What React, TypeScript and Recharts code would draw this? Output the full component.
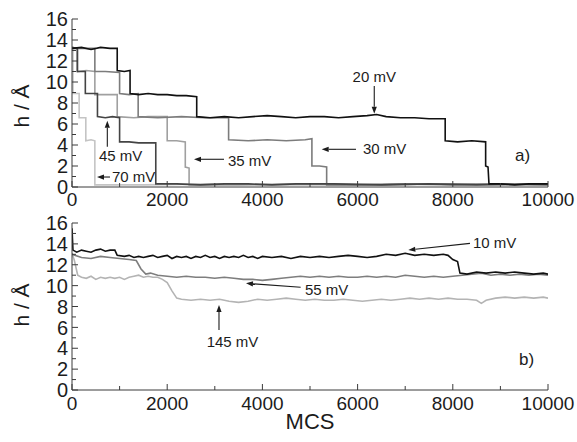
import * as React from 'react';
import { LineChart, Line, XAxis, YAxis, ReferenceLine, ReferenceDot } from 'recharts';

type Pt = [number, number];

// axis ticks
const xTicks = [0, 1000, 2000, 3000, 4000, 5000, 6000, 7000, 8000, 9000, 10000];
const yTicks = [0, 1, 2, 3, 4, 5, 6, 7, 8, 9, 10, 11, 12, 13, 14, 15, 16];

// panel a) : h (Å) vs MCS
const mv20: Pt[] = [
  [0, 13.2], [200, 13.3], [400, 13.1], [600, 13.3], [800, 13.2], [950, 13.2],
  [950, 11.1], [1100, 11.0], [1220, 11.1],
  [1220, 8.9], [1400, 8.8], [1600, 8.9], [1800, 8.8], [2000, 8.8], [2200, 8.7], [2400, 8.7], [2620, 8.6],
  [2620, 6.7], [2900, 6.6], [3200, 6.7], [3500, 6.6], [3800, 6.7], [4100, 6.8], [4400, 6.7], [4700, 6.6],
  [5000, 6.7], [5300, 6.7], [5600, 6.6], [5900, 6.7], [6200, 6.8], [6400, 6.9], [6600, 6.7], [6900, 6.6],
  [7200, 6.6], [7500, 6.5], [7840, 6.5],
  [7840, 4.4], [8100, 4.3], [8400, 4.4], [8690, 4.3],
  [8690, 2.0], [8740, 1.9], [8760, 0.3], [9000, 0.3], [9300, 0.2], [9600, 0.3], [10000, 0.3],
];
const mv30: Pt[] = [
  [0, 13.2], [480, 13.2], [480, 11.0], [700, 11.0], [1000, 10.9],
  [1000, 8.9], [1200, 8.8], [1390, 8.9],
  [1390, 6.7], [1800, 6.6], [2300, 6.7], [2800, 6.6], [3290, 6.6],
  [3290, 4.5], [3700, 4.4], [4100, 4.5], [4500, 4.4], [4900, 4.5], [5040, 4.6],
  [5040, 2.0], [5200, 2.0], [5350, 1.9],
  [5350, 0.2], [6000, 0.2], [7000, 0.3], [8000, 0.2], [9000, 0.3], [10000, 0.2],
];
const mv35: Pt[] = [
  [0, 13.2], [120, 13.2], [120, 11.0], [300, 11.1], [480, 11.0],
  [480, 8.8], [700, 8.8], [950, 8.8],
  [950, 6.7], [1300, 6.6], [1600, 6.7], [2000, 6.7],
  [2000, 4.4], [2200, 4.4], [2380, 4.3],
  [2380, 1.9], [2460, 1.8],
  [2460, 0.2], [3500, 0.2], [5000, 0.3], [6500, 0.2], [8000, 0.3], [10000, 0.2],
];
const mv45: Pt[] = [
  [0, 13.3], [110, 13.2], [110, 11.0], [280, 11.0],
  [280, 8.9], [535, 8.9],
  [535, 6.7], [700, 6.6], [850, 6.7], [1000, 6.6],
  [1000, 4.3], [1200, 4.3], [1400, 4.2], [1600, 4.2], [1760, 4.2],
  [1760, 0.3], [2200, 0.3], [2700, 0.2], [3200, 0.3], [3700, 0.3], [4200, 0.2], [4700, 0.3],
  [5500, 0.3], [6500, 0.2], [7500, 0.3], [8500, 0.2], [10000, 0.3],
];
const mv70: Pt[] = [
  [0, 13.2], [20, 13.0], [20, 8.9], [150, 8.9],
  [150, 6.6], [290, 6.6],
  [290, 4.4], [400, 4.5], [480, 4.4],
  [480, 0.2], [1500, 0.2], [3000, 0.3], [4500, 0.2], [6000, 0.2], [7500, 0.3], [10000, 0.2],
];

// panel b)
const mv10: Pt[] = [
  [0, 15.5], [20, 13.4], [100, 13.2], [200, 13.4], [300, 13.3], [400, 13.2], [500, 13.4], [600, 13.5],
  [700, 13.3], [800, 13.4], [900, 13.4], [950, 12.9], [1100, 12.8], [1200, 12.9], [1300, 12.7],
  [1400, 12.8], [1500, 12.7], [1600, 12.8], [1700, 12.9], [1800, 12.7], [1900, 12.8], [2000, 12.9],
  [2100, 12.6], [2200, 12.8], [2300, 12.7], [2400, 12.8], [2500, 12.6], [2600, 12.8], [2700, 12.7],
  [2800, 12.9], [2900, 12.7], [3000, 12.8], [3100, 12.6], [3200, 12.8], [3300, 12.7], [3400, 12.8],
  [3500, 12.7], [3600, 12.9], [3700, 12.7], [3800, 12.8], [3900, 12.6], [4000, 12.8], [4200, 12.7],
  [4400, 12.8], [4600, 12.6], [4800, 12.8], [5000, 12.7], [5200, 12.8], [5400, 12.7], [5600, 12.8],
  [5800, 12.9], [6000, 12.8], [6200, 12.7], [6400, 12.8], [6600, 13.0], [6800, 12.9], [7000, 13.1],
  [7200, 12.9], [7400, 13.0], [7600, 12.9], [7800, 13.0], [7900, 12.9], [8000, 12.5], [8100, 12.3],
  [8150, 11.2], [8300, 11.1], [8500, 11.3], [8700, 11.2], [8900, 11.3], [9100, 11.2], [9300, 11.3],
  [9500, 11.2], [9700, 11.1], [9900, 11.2], [10000, 11.1],
];
const mv55: Pt[] = [
  [0, 13.0], [200, 12.7], [400, 12.6], [600, 12.8], [800, 12.7], [1000, 12.6], [1200, 12.5], [1350, 12.4],
  [1450, 11.6], [1550, 11.1], [1650, 11.2], [1800, 11.0], [2000, 10.9], [2200, 10.8], [2400, 10.9],
  [2600, 10.8], [2800, 10.8], [3000, 10.7], [3200, 10.8], [3400, 10.7], [3600, 10.6], [3800, 10.6],
  [4000, 10.5], [4200, 10.6], [4400, 10.7], [4600, 10.8], [4800, 10.9], [5000, 10.8], [5200, 10.9],
  [5400, 10.8], [5600, 10.9], [5800, 10.8], [6000, 10.8], [6200, 10.9], [6400, 10.8], [6600, 10.9],
  [6800, 10.8], [7000, 11.0], [7200, 10.9], [7400, 10.8], [7600, 10.9], [7800, 10.8], [8000, 10.9],
  [8200, 11.0], [8400, 11.1], [8600, 11.2], [8800, 11.0], [9000, 11.1], [9200, 11.0], [9400, 11.1],
  [9600, 11.0], [9800, 11.1], [10000, 11.0],
];
const mv145: Pt[] = [
  [0, 13.1], [50, 12.4], [120, 11.0], [200, 10.8], [300, 10.7], [400, 10.9], [500, 10.6], [600, 10.8],
  [700, 10.7], [800, 10.8], [900, 10.7], [1000, 10.8], [1100, 10.6], [1200, 10.8], [1300, 10.9],
  [1400, 11.0], [1500, 10.8], [1600, 10.9], [1700, 10.8], [1800, 10.8], [1900, 10.6], [2000, 10.3],
  [2100, 9.5], [2200, 8.8], [2300, 8.7], [2500, 8.6], [2700, 8.7], [2900, 8.6], [3100, 8.7], [3300, 8.5],
  [3500, 8.4], [3700, 8.5], [3900, 8.7], [4100, 8.6], [4300, 8.7], [4500, 8.8], [4700, 8.7], [4900, 8.6],
  [5100, 8.7], [5300, 8.6], [5500, 8.6], [5700, 8.7], [5900, 8.6], [6100, 8.5], [6300, 8.6], [6500, 8.7],
  [6700, 8.6], [6900, 8.7], [7100, 8.8], [7300, 8.7], [7500, 8.8], [7700, 8.7], [7900, 8.8], [8100, 8.7],
  [8300, 8.7], [8500, 8.6], [8600, 8.3], [8700, 8.6], [8900, 8.8], [9100, 8.9], [9300, 8.8], [9500, 8.9],
  [9700, 8.8], [9900, 8.9], [10000, 8.8],
];

const FONT = '"Liberation Sans", Arial, sans-serif';
const AXIS = '#3a3a3a';
const INK = '#1c1c1c';

const rows = (pts: Pt[]) => pts.map(([x, h]) => ({ x, h }));

// inward ticks, labels only on the major values
const LeftTick = (p: any) => {
  const v = p.payload.value;
  const major = v % 2 === 0;
  return (
    <g>
      <line x1={p.x} x2={p.x + (major ? 6 : 4)} y1={p.y} y2={p.y} stroke={AXIS} />
      {major && (
        <text x={p.x - 4} y={p.y} dy="0.36em" textAnchor="end" fontSize={20} fontFamily={FONT} fill={INK}>
          {v}
        </text>
      )}
    </g>
  );
};
const RightTick = (p: any) => {
  const major = p.payload.value % 2 === 0;
  return <line x1={p.x} x2={p.x - (major ? 6 : 4)} y1={p.y} y2={p.y} stroke={AXIS} />;
};
const makeBottomTick = (off: number) => (p: any) => {
  const v = p.payload.value;
  const major = v % 2000 === 0;
  return (
    <g>
      <line x1={p.x} x2={p.x} y1={p.y} y2={p.y - (major ? 6 : 4)} stroke={AXIS} />
      {major && (
        <text x={p.x} y={p.y + off} textAnchor="middle" fontSize={19} fontFamily={FONT} fill={INK}>
          {v}
        </text>
      )}
    </g>
  );
};
const TopTick = (p: any) => {
  const major = p.payload.value % 2000 === 0;
  return <line x1={p.x} x2={p.x} y1={p.y} y2={p.y + (major ? 6 : 4)} stroke={AXIS} />;
};

const arrowShape = (p: any) => {
  const { x1, y1, x2, y2 } = p;
  const dx = x2 - x1;
  const dy = y2 - y1;
  const len = Math.hypot(dx, dy) || 1;
  const ux = dx / len;
  const uy = dy / len;
  const bx = x2 - ux * 7;
  const by = y2 - uy * 7;
  const hw = 2.6;
  return (
    <g>
      <line x1={x1} y1={y1} x2={bx} y2={by} stroke={INK} strokeWidth={1.1} />
      <polygon
        points={`${x2},${y2} ${bx - uy * hw},${by + ux * hw} ${bx + uy * hw},${by - ux * hw}`}
        fill={INK}
      />
    </g>
  );
};

const textShape = (label: string, anchor: 'start' | 'middle' | 'end', size = 15) => (p: any) => (
  <text x={p.cx} y={p.cy} textAnchor={anchor} fontSize={size} fontFamily={FONT} fill={INK}>
    {label}
  </text>
);

const axes = (tickOff: number, bottomH: number) => [
  <XAxis
    key="xb"
    dataKey="x"
    type="number"
    domain={[0, 10000]}
    ticks={xTicks}
    interval={0}
    allowDataOverflow
    height={bottomH}
    tickSize={0}
    tickMargin={0}
    stroke={AXIS}
    tick={makeBottomTick(tickOff)}
  />,
  <XAxis
    key="xt"
    xAxisId="top"
    orientation="top"
    dataKey="x"
    type="number"
    domain={[0, 10000]}
    ticks={xTicks}
    interval={0}
    allowDataOverflow
    height={0}
    tickSize={0}
    tickMargin={0}
    stroke={AXIS}
    tick={TopTick}
  />,
  <YAxis
    key="yl"
    type="number"
    domain={[0, 16]}
    ticks={yTicks}
    interval={0}
    allowDataOverflow
    width={72}
    tickSize={0}
    tickMargin={0}
    stroke={AXIS}
    tick={LeftTick}
  />,
  <YAxis
    key="yr"
    yAxisId="right"
    orientation="right"
    type="number"
    domain={[0, 16]}
    ticks={yTicks}
    interval={0}
    allowDataOverflow
    width={0}
    tickSize={0}
    tickMargin={0}
    stroke={AXIS}
    tick={RightTick}
  />,
];

const series = (pts: Pt[], color: string, name: string) => (
  <Line
    key={name}
    data={rows(pts)}
    dataKey="h"
    name={name}
    type="linear"
    stroke={color}
    strokeWidth={1.6}
    dot={false}
    isAnimationActive={false}
  />
);

export default function App() {
  return (
    <div style={{ position: 'absolute', left: 0, top: 0, width: 577, height: 442, background: '#fff', fontFamily: FONT }}>
      <div style={{ position: 'absolute', left: 0, top: 0 }}>
        <LineChart width={577} height={210} margin={{ top: 19, right: 29, left: 0, bottom: 0 }}>
          {axes(19, 23)}
          {series(mv70, '#c4c4c4', '70 mV')}
          {series(mv35, '#a0a0a0', '35 mV')}
          {series(mv30, '#7c7c7c', '30 mV')}
          {series(mv45, '#444444', '45 mV')}
          {series(mv20, '#111111', '20 mV')}

          <ReferenceLine segment={[{ x: 6350, y: 9.62 }, { x: 6350, y: 6.98 }]} shape={arrowShape} />
          <ReferenceDot x={6350} y={10.0} r={0} shape={textShape('20 mV', 'middle')} />
          <ReferenceLine segment={[{ x: 5966, y: 3.59 }, { x: 5245, y: 3.59 }]} shape={arrowShape} />
          <ReferenceDot x={6113} y={3.14} r={0} shape={textShape('30 mV', 'start')} />
          <ReferenceLine segment={[{ x: 3193, y: 2.64 }, { x: 2563, y: 2.64 }]} shape={arrowShape} />
          <ReferenceDot x={3277} y={2.0} r={0} shape={textShape('35 mV', 'start')} />
          <ReferenceLine segment={[{ x: 742, y: 3.84 }, { x: 742, y: 6.31 }]} shape={arrowShape} />
          <ReferenceDot x={567} y={2.48} r={0} shape={textShape('45 mV', 'start')} />
          <ReferenceLine segment={[{ x: 798, y: 0.95 }, { x: 525, y: 0.95 }]} shape={arrowShape} />
          <ReferenceDot x={840} y={0.48} r={0} shape={textShape('70 mV', 'start')} />
          <ReferenceDot x={9307} y={2.48} r={0} shape={textShape('a)', 'start', 17)} />
        </LineChart>
      </div>
      <div style={{ position: 'absolute', left: 0, top: 210 }}>
        <LineChart width={577} height={232} margin={{ top: 13, right: 29, left: 0, bottom: 0 }}>
          {axes(20, 52)}
          {series(mv145, '#b4b4b4', '145 mV')}
          {series(mv55, '#7e7e7e', '55 mV')}
          {series(mv10, '#111111', '10 mV')}

          <ReferenceLine segment={[{ x: 8361, y: 14.05 }, { x: 7066, y: 13.41 }]} shape={arrowShape} />
          <ReferenceDot x={8424} y={13.6} r={0} shape={textShape('10 mV', 'start')} />
          <ReferenceLine segment={[{ x: 4804, y: 9.84 }, { x: 3655, y: 10.22 }]} shape={arrowShape} />
          <ReferenceDot x={4895} y={9.1} r={0} shape={textShape('55 mV', 'start')} />
          <ReferenceLine segment={[{ x: 3088, y: 5.75 }, { x: 3088, y: 8.14 }]} shape={arrowShape} />
          <ReferenceDot x={3372} y={4.12} r={0} shape={textShape('145 mV', 'middle')} />
          <ReferenceDot x={9391} y={2.4} r={0} shape={textShape('b)', 'start', 17)} />
        </LineChart>
      </div>

      {/* axis titles */}
      <div style={{ position: 'absolute', left: 22, top: 106, transform: 'translate(-50%, -50%) rotate(-90deg)', fontSize: 21, color: INK, whiteSpace: 'nowrap' }}>
        h / Å
      </div>
      <div style={{ position: 'absolute', left: 22, top: 305, transform: 'translate(-50%, -50%) rotate(-90deg)', fontSize: 21, color: INK, whiteSpace: 'nowrap' }}>
        h / Å
      </div>
      <div style={{ position: 'absolute', left: 310, top: 422, transform: 'translate(-50%, -50%)', fontSize: 22, color: INK, whiteSpace: 'nowrap' }}>
        MCS
      </div>
    </div>
  );
}
